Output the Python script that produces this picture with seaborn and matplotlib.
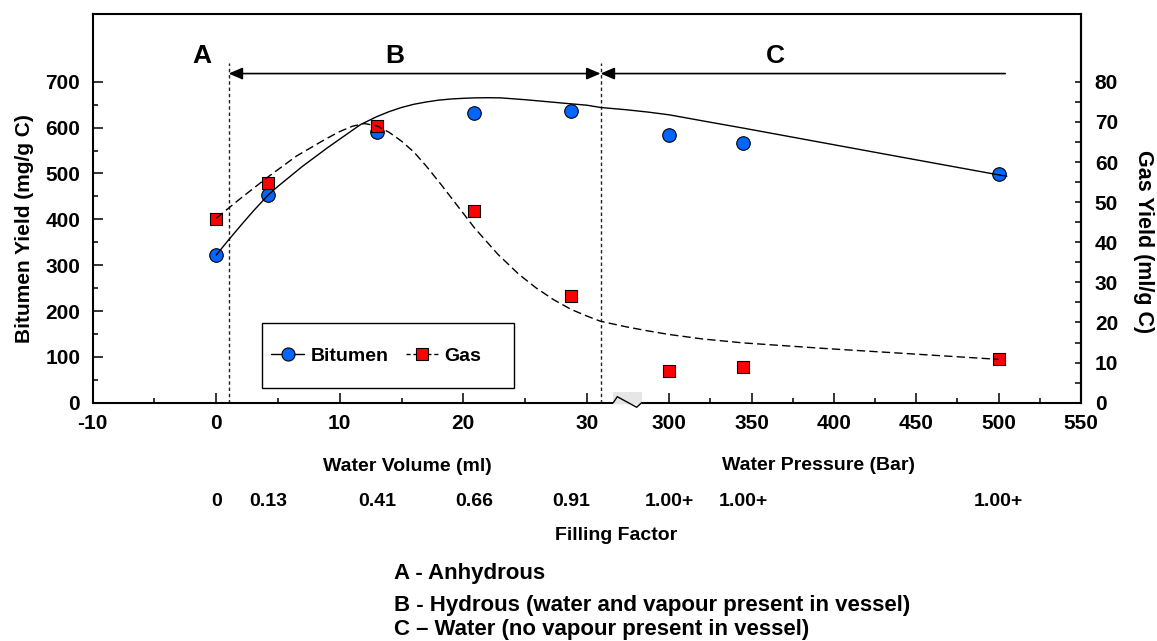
import numpy as np
import matplotlib
matplotlib.use("Agg")
import matplotlib.pyplot as plt
from matplotlib.lines import Line2D
from matplotlib.patches import Rectangle
import seaborn as sns

# Estilo
sns.set_theme(style="ticks", rc={
    "axes.edgecolor": "black", "text.color": "black", "axes.labelcolor": "black",
    "xtick.color": "black", "ytick.color": "black",
})
plt.rcParams['font.family'] = ['Liberation Sans', 'DejaVu Sans']
plt.rcParams['font.weight'] = 'bold'
plt.rcParams['axes.labelweight'] = 'bold'

# Datos
water_ml = [0, 4.2, 13, 20.9, 28.7]
pressure_bar = [300, 345, 500]
bitumen = [322, 453, 591, 633, 636, 584, 566, 499]
gas = [45.8, 54.8, 68.9, 47.9, 26.7, 8.0, 8.9, 10.9]
filling_factor = ['0', '0.13', '0.41', '0.66', '0.91', '1.00+', '1.00+', '1.00+']

# curvas de ajuste (x en ml hasta 30, luego bar)
fit_bitumen_x = [0, 1, 2, 3, 4.2, 5, 6, 7, 8, 9, 10, 11.7, 13, 14, 15, 16, 17, 18, 19, 20, 21, 22, 23, 25,
                 28.7, 30, 75, 160, 230, 300, 320, 345, 395, 442, 500, 505]
fit_bitumen_y = [322, 355, 387, 418, 453, 472, 494, 516, 536, 556, 575, 607, 624, 635, 644, 651, 656, 660,
                 662.5, 664, 665, 665.3, 665, 661, 652, 649, 644, 639, 634, 628, 615, 599, 566, 535, 497, 494]
fit_gas_x = [0, 2, 4.2, 6.5, 8.9, 10, 11, 12, 13, 14, 15, 16, 17, 18.2, 19.5, 20.9, 22.8, 24.5, 25.9,
             27.3, 28.7, 30, 75, 160, 230, 300, 320, 345, 395, 442, 500]
fit_gas_y = [46.0, 51.0, 56.3, 61.5, 65.8, 67.6, 68.9, 69.6, 69.0, 67.4, 65.2, 62.5, 59.0, 54.4, 49.2,
             43.6, 37.0, 32.0, 28.6, 25.7, 23.3, 21.6, 20.3, 18.9, 17.9, 17.0, 15.9, 14.9, 13.5, 12.3, 10.8]

x_ticks = [-10, 0, 10, 20, 30, 300, 350, 400, 450, 500, 550]
x_minor = [-5, 5, 15, 25, 325, 375, 425, 475, 525]
regions = ['A', 'B', 'C']
region_x = [-1.15, 14.45, 364.4]
notes = ['A - Anhydrous',
         'B - Hydrous (water and vapour present in vessel)',
         'C \u2013 Water (no vapour present in vessel)']

blue = '#0066ff'
red = '#ff0000'


# eje x partido: ml (-10..30) y bar (300..550)
def fwd(x):
    x = np.asarray(x, dtype=float)
    return np.where(x <= 30, 25 + 7.5 * x, np.where(x <= 300, 250 + (x - 30) * 50 / 270, x))


def inv(y):
    y = np.asarray(y, dtype=float)
    return np.where(y <= 250, (y - 25) / 7.5, np.where(y <= 300, 30 + (y - 250) * 270 / 50, y))


fig, ax = plt.subplots(figsize=(11.57, 6.41), dpi=100)
fig.subplots_adjust(left=0.0801, right=0.9343, bottom=0.3718, top=0.9782)
ax2 = ax.twinx()

x_all = water_ml + pressure_bar
sns.scatterplot(x=x_all, y=bitumen, ax=ax, marker='o', s=95, color=blue,
                edgecolor='black', linewidth=0.8, zorder=3, legend=False)
sns.lineplot(x=fit_bitumen_x, y=fit_bitumen_y, ax=ax, color='black', linewidth=1.0,
             sort=False, estimator=None, zorder=4)
sns.scatterplot(x=x_all, y=gas, ax=ax2, marker='s', s=85, color=red,
                edgecolor='black', linewidth=0.8, zorder=3, legend=False)
sns.lineplot(x=fit_gas_x, y=fit_gas_y, ax=ax2, color='black', linewidth=1.0,
             linestyle=(0, (6, 3)), sort=False, estimator=None, zorder=4)

ax.set_xscale('function', functions=(fwd, inv))
ax.set_xlim(-10, 550)
ax.set_ylim(0, 848)
ax2.set_ylim(0, 848 / 8.75)

ax.set_xticks(x_ticks, labels=[str(t) for t in x_ticks])
ax.set_xticks(x_minor, minor=True)
ax.set_yticks(range(0, 701, 100))
ax.set_yticks(range(50, 651, 100), minor=True)
ax2.set_yticks(range(0, 81, 10))
ax2.set_yticks(range(5, 76, 10), minor=True)

ax.tick_params(axis='x', which='major', direction='in', length=7.2, width=1.1, labelsize=15, pad=8)
ax.tick_params(axis='x', which='minor', direction='in', length=3.6, width=1.1)
ax.tick_params(axis='y', which='major', direction='in', length=7.2, width=1.1, labelsize=15, pad=9)
ax.tick_params(axis='y', which='minor', direction='in', length=3.6, width=1.1)
ax2.tick_params(axis='y', which='both', direction='in', length=4.3, width=1.1, labelsize=15, pad=10)

for s in ax.spines.values():
    s.set_linewidth(1.5)
    s.set_visible(True)
for k in ['top', 'bottom', 'left']:
    ax2.spines[k].set_visible(False)
ax2.spines['right'].set_linewidth(1.5)

ax.set_xlabel('')
ax.set_ylabel('Bitumen Yield (mg/g C)', fontsize=15, fontweight='bold',
              va='center', rotation_mode='anchor')
ax.yaxis.set_label_coords(-0.0685, 0.449)
ax2.set_ylabel('Gas Yield (ml/g C)', fontsize=15.5, fontweight='bold', rotation=270,
               va='center', ha='center', rotation_mode='anchor')
ax2.yaxis.set_label_coords(1.0632, 0.4134)

# zonas A, B, C
ax.vlines([1.0, 75], 0, 741, colors='#222222', linestyles=(0, (2.5, 2)), linewidth=1.0, zorder=2)
arrow_y = 718
ax.annotate('', xy=(1.0, arrow_y), xytext=(75, arrow_y),
            arrowprops=dict(arrowstyle='<|-|>,head_length=0.7,head_width=0.3', color='black',
                            lw=1.2, shrinkA=0, shrinkB=0))
ax.annotate('', xy=(75, arrow_y), xytext=(504, arrow_y),
            arrowprops=dict(arrowstyle='-|>,head_length=0.7,head_width=0.3', color='black',
                            lw=1.2, shrinkA=0, shrinkB=0))
for lab, xr in zip(regions, region_x):
    ax.text(xr, 756, lab, fontsize=19, fontweight='bold', ha='center', va='center')

# corte del eje
ax.add_patch(Rectangle((0.5268, -0.004), 0.0287, 0.032, transform=ax.transAxes,
                       facecolor='#e6e6e6', edgecolor='none', clip_on=False, zorder=5))
ax.plot([0.5268, 0.5308, 0.5504, 0.5555], [0, 0.0154, -0.0118, 0], transform=ax.transAxes,
        color='black', lw=1.0, clip_on=False, zorder=6)

# leyenda
ax.add_patch(Rectangle((0.171, 0.0365), 0.255, 0.168, transform=ax.transAxes,
                       facecolor='white', edgecolor='black', lw=1.0, zorder=5))
handles = [Line2D([], [], color='black', lw=1, marker='o', ms=9.4, mfc=blue, mec='black', mew=0.8),
           Line2D([], [], color='black', lw=1, ls=(0, (3, 2)), marker='s', ms=9, mfc=red, mec='black', mew=0.8)]
leg = ax.legend(handles, ['Bitumen', 'Gas'], loc='center left', bbox_to_anchor=(0.173, 0.1205),
                ncol=2, frameon=False, prop={'weight': 'bold', 'size': 14}, handlelength=1.7,
                handletextpad=0.3, columnspacing=0.9, borderaxespad=0)
leg.set_zorder(6)

# textos bajo el eje
W, H = 1157, 641
fig.text(407 / W, 1 - 466.7 / H, 'Water Volume (ml)', ha='center', va='center', fontsize=14, fontweight='bold')
fig.text(818.7 / W, 1 - 465 / H, 'Water Pressure (Bar)', ha='center', va='center', fontsize=14, fontweight='bold')
for xv, lab in zip(x_all, filling_factor):
    ax.text(xv, -0.253, lab, transform=ax.get_xaxis_transform(), ha='center', va='center',
            fontsize=14, fontweight='bold')
fig.text(616 / W, 1 - 535 / H, 'Filling Factor', ha='center', va='center', fontsize=14, fontweight='bold')
for yy, note in zip([574, 605, 629], notes):
    fig.text(394 / W, 1 - yy / H, note, ha='left', va='center', fontsize=16, fontweight='bold')

fig.savefig('out.png', dpi=100)
